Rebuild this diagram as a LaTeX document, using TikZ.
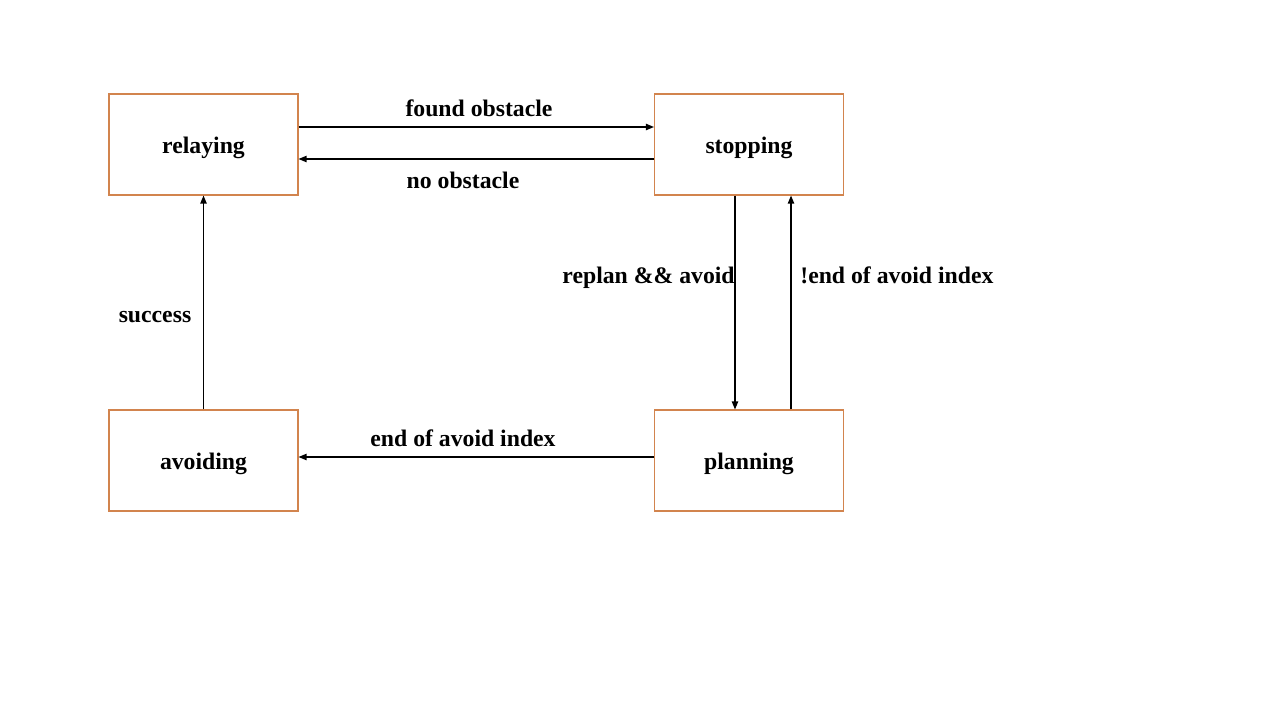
\documentclass[tikz,border=0pt]{standalone}
\usepackage{fontspec}
\setmainfont{Liberation Serif}
\usetikzlibrary{arrows.meta}
\definecolor{boxline}{RGB}{210,132,78}
\tikzset{
  state/.style={draw=boxline, line width=0.6pt, minimum width=3.78cm, minimum height=2.02cm, inner sep=0pt, text height=12pt, text depth=2.3pt, font=\fontsize{13.5}{16}\selectfont\bfseries},
  arr/.style={draw=black, line width=0.75pt, -{Triangle[length=4.6pt,width=3.6pt]}},
  lbl/.style={font=\fontsize{13.5}{16}\selectfont\bfseries, inner sep=0pt}
}
\begin{document}
\begin{tikzpicture}[x=0.02cm,y=-0.02cm]
\useasboundingbox[fill=white] (0,0) rectangle (1280,720);
\node[state] (relaying) at (203.5,144.5) {relaying};
\node[state] (stopping) at (749,144.5) {stopping};
\node[state] (avoiding) at (203.5,460.5) {avoiding};
\node[state] (planning) at (749,460.5) {planning};

\draw[arr] (relaying.east |- 0,127) -- (stopping.west |- 0,127);
\draw[arr] (stopping.west |- 0,159) -- (relaying.east |- 0,159);
\draw[arr] (stopping.south -| 735,0) -- (planning.north -| 735,0);
\draw[arr] (planning.north -| 791,0) -- (stopping.south -| 791,0);
\draw[arr] (planning.west |- 0,457) -- (avoiding.east |- 0,457);
\draw[arr] (avoiding.north) -- (relaying.south);

\node[lbl, anchor=base] (l1) at (479,116.5) {found obstacle};
\node[lbl, anchor=base] (l2) at (463,188.5) {no obstacle};
\node[lbl, anchor=base east] (l3) at (735,283) {replan \&\& avoid};
\node[lbl, anchor=base west] (l4) at (800,283) {!end of avoid index};
\node[lbl, anchor=base] (l5) at (155,322.5) {success};
\node[lbl, anchor=base] (l6) at (463,446.5) {end of avoid index};
\end{tikzpicture}
\end{document}
